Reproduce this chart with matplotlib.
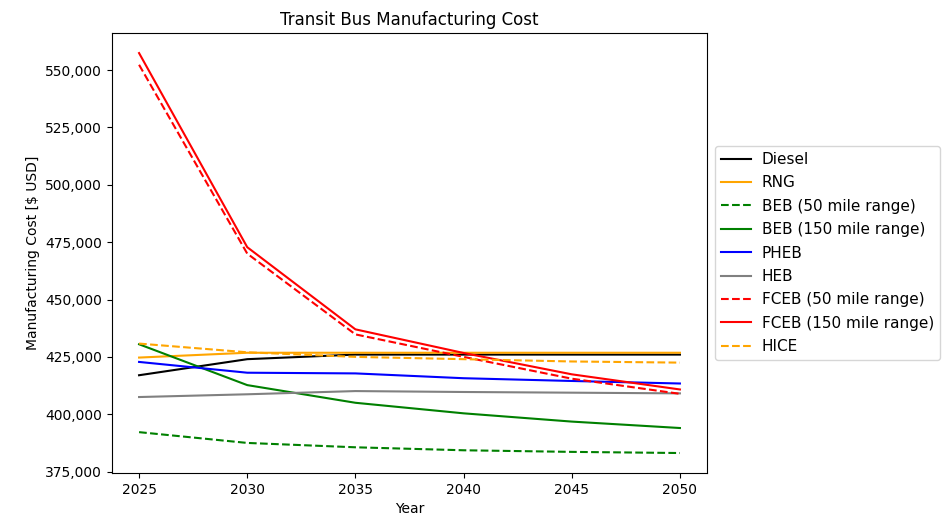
import matplotlib
matplotlib.use("Agg")
import matplotlib.pyplot as plt
from matplotlib.ticker import FuncFormatter

years = [2025, 2030, 2035, 2040, 2045, 2050]

diesel = [417000, 424000, 426000, 426000, 426000, 426000]
rng = [424700, 426800, 426800, 426800, 426800, 426800]
beb_50 = [392200, 387500, 385600, 384300, 383600, 383100]
beb_150 = [430500, 412700, 405000, 400400, 396800, 394000]
pheb = [422800, 418100, 417800, 415700, 414500, 413400]
heb = [407500, 408700, 410100, 409700, 409400, 409100]
fceb_50 = [552300, 470000, 434800, 425000, 415500, 408900]
fceb_150 = [557400, 472800, 437000, 426700, 417400, 410800]
hice = [430800, 427000, 425000, 424000, 423000, 422500]

series = [
    ("Diesel", diesel, "black", "-"),
    ("RNG", rng, "orange", "-"),
    ("BEB (50 mile range)", beb_50, "green", "--"),
    ("BEB (150 mile range)", beb_150, "green", "-"),
    ("PHEB", pheb, "blue", "-"),
    ("HEB", heb, "grey", "-"),
    ("FCEB (50 mile range)", fceb_50, "red", "--"),
    ("FCEB (150 mile range)", fceb_150, "red", "-"),
    ("HICE", hice, "orange", "--"),
]

fig = plt.figure(figsize=(9.43, 5.25), dpi=100)
ax = fig.add_axes([0.1188, 0.099, 0.6309, 0.838])

for label, vals, color, ls in series:
    ax.plot(years, vals, color=color, linestyle=ls, label=label)

ax.set_xticks(years)
ax.yaxis.set_major_formatter(FuncFormatter(lambda v, p: f"{int(v):,}"))
ax.set_title("Transit Bus Manufacturing Cost")
ax.set_xlabel("Year")
ax.set_ylabel("Manufacturing Cost [$ USD]")
ax.legend(loc="center left", bbox_to_anchor=(1.0, 0.5), fontsize=11,
          labelspacing=0.55, handletextpad=0.7)

fig.savefig("out.png", dpi=100)
